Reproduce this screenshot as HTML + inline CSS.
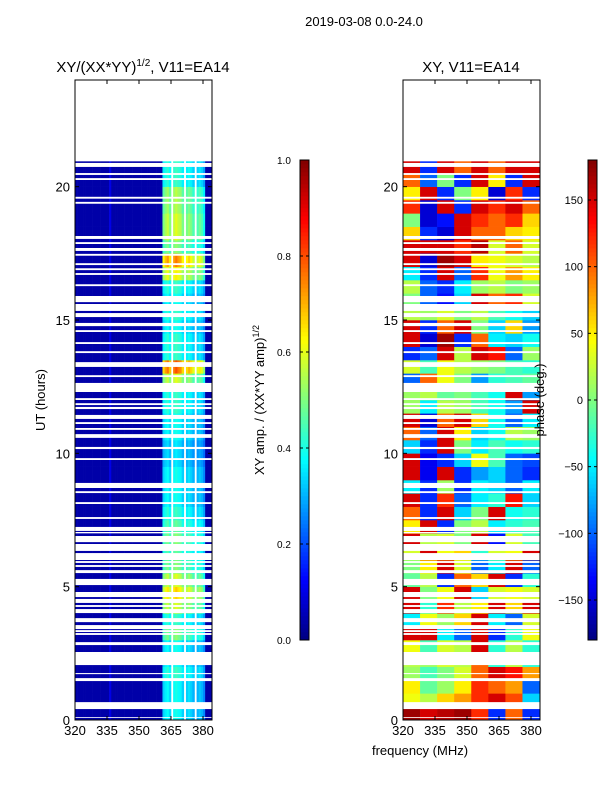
<!DOCTYPE html>
<html><head><meta charset="utf-8">
<style>
body{margin:0;background:#fff;}
svg text{font-family:"Liberation Sans",sans-serif;fill:#000;}
</style></head>
<body>
<svg id="fig" width="600" height="800" viewBox="0 0 600 800" xmlns="http://www.w3.org/2000/svg">
<text x="364" y="26" font-size="13" text-anchor="middle">2019-03-08 0.0-24.0</text>
<text x="143" y="72" font-size="15" text-anchor="middle">XY/(XX*YY)<tspan font-size="10" dy="-6">1/2</tspan><tspan dy="6">, V11=EA14</tspan></text>
<text x="471" y="72" font-size="15" text-anchor="middle">XY, V11=EA14</text>
<text x="45" y="400" font-size="13" text-anchor="middle" transform="rotate(-90 45 400)">UT (hours)</text>
<text x="420" y="755" font-size="13" text-anchor="middle">frequency (MHz)</text>
<text x="264" y="400" font-size="13" text-anchor="middle" transform="rotate(-90 264 400)">XY amp. / (XX*YY amp)<tspan font-size="9" dy="-5">1/2</tspan></text>
<g id="left"></g>
<g id="right"></g>
<g id="cbars"></g>
<g id="axes"></g>
<text x="544" y="400" font-size="13" text-anchor="middle" transform="rotate(-90 544 400)">phase (deg.)</text>
</svg>
<script>
const freqBins = [];for(let f=320;f<384;f++)freqBins.push(f);
const bandProfile = {361:0.33,362:0.36,363:0.38,364:0.34,365:null,366:0.38,367:0.4,368:0.38,369:0.37,370:0.33,371:null,372:0.33,373:0.35,374:0.33,375:0.3,376:null,377:0.3,378:0.32,379:0.3,380:0.26};
const bgAmp = 0.04;
const rowScale = [1.0,1.0,1.0,1.1,1.0,1.0,1.3,1.1,1.5,1.7,1.5,1.3,1.2,1.3,1.2,1.1,1.0,1.0,1.0,0.9,0.9,1.0,1.0,1.1,1.1,1.5,2.0,1.1,1.1,1.0,1.1,1.0,1.1,1.6,1.9,1.3,1.5,1.5,1.4,1.4,1.1,1.1];
const phaseFreqEdges = [320,328,336,344,352,360,368,376,384];
const phaseRows = [
[170,150,160,170,120,-120,100,-120],
[40,20,60,80,120,150,110,-60],
[50,-10,10,50,120,100,80,-100],
[10,-20,0,30,100,150,130,80],
[20,10,30,20,100,-30,20,-30],
[40,-20,30,20,150,-30,20,-30],
[150,150,-50,-100,150,-120,-30,40],
[-50,40,10,60,150,-50,-100,30],
[150,-30,120,20,50,150,60,150],
[150,0,40,150,-60,30,40,30],
[-10,20,-120,100,60,150,-120,-30],
[0,50,150,30,-100,-50,150,-100],
[30,150,40,60,-30,30,40,150],
[150,20,30,0,150,-130,30,-20],
[50,150,-120,0,20,-50,-30,-20],
[100,-120,150,-60,0,150,-40,-30],
[150,-120,120,-100,-50,-30,130,-60],
[-50,-120,10,-120,-50,-60,-100,-50],
[150,-140,150,-120,-80,-60,-100,-120],
[150,-140,-120,-60,40,-20,-100,-110],
[-60,-120,150,0,-50,-20,-40,-30],
[100,-100,150,50,-60,-40,20,10],
[150,-150,100,150,60,-40,-100,-50],
[10,-50,20,10,-20,-40,-80,150],
[10,20,-10,0,-20,-40,150,-80],
[-100,100,40,0,-80,-30,-20,-10],
[30,-20,40,20,10,0,-20,-30],
[-120,-100,150,20,150,130,-100,10],
[150,-150,170,-120,100,-50,-60,-40],
[150,-120,100,150,0,-60,60,-80],
[20,10,30,0,20,-20,-40,-60],
[0,-100,-130,-60,150,100,120,30],
[20,-100,-120,-50,10,20,0,10],
[-50,-120,150,-100,120,40,80,50],
[150,-150,170,150,50,40,30,20],
[150,150,150,120,160,30,100,30],
[60,-120,-150,150,100,100,60,50],
[0,-150,-130,150,120,100,120,60],
[120,-150,150,-120,150,120,150,100],
[50,150,-120,0,50,-150,120,-120],
[100,-100,0,-120,150,50,-120,150],
[150,-120,150,100,150,100,150,150]];
const rowHours = 0.5;
const gaps = [[20.74,20.89],[20.44,20.51],[20.25,20.32],[19.55,19.62],[19.36,19.43],[18.04,18.15],[17.85,17.92],[17.59,17.7],[17.41,17.48],[17.06,17.13],[16.87,16.94],[16.69,16.76],[16.27,16.34],[15.67,15.9],[15.34,15.6],[15.11,15.26],[14.77,14.89],[14.55,14.62],[14.1,14.17],[13.76,13.83],[13.24,13.42],[12.86,12.93],[12.3,12.64],[12.0,12.07],[11.81,11.88],[11.66,11.74],[11.29,11.44],[11.1,11.17],[10.88,10.95],[10.65,10.72],[10.58,10.65],[10.16,10.24],[9.75,9.82],[8.7,8.89],[8.51,8.58],[8.1,8.17],[7.54,7.61],[7.09,7.24],[7.0,7.05],[6.67,6.9],[6.34,6.6],[6.0,6.26],[5.89,5.96],[5.74,5.81],[5.51,5.62],[5.06,5.29],[4.61,4.8],[4.39,4.54],[4.24,4.31],[4.01,4.16],[3.67,3.82],[3.41,3.56],[3.3,3.37],[3.19,3.26],[2.81,2.92],[2.06,2.55],[1.72,1.76],[1.46,1.57],[0.41,0.67],[0.08,0.11]];
const dataEnd = 20.95;
const yTicks = [0,5,10,15,20];
const xTicks = [320,335,350,365,380];
const ampTicks = ["0.0","0.2","0.4","0.6","0.8","1.0"];
const phaseTicks = [-150,-100,-50,0,50,100,150];

const NS="http://www.w3.org/2000/svg";
const PW=137, PT=80, PB=720;
const yS=h=>PB-(h/24)*(PB-PT);
const xS=(x0,f)=>x0+(f-320)*(128/60);
function jet(v){v=Math.max(0,Math.min(1,v));
 const r=Math.max(0,Math.min(1,1.5-Math.abs(4*v-3))),g=Math.max(0,Math.min(1,1.5-Math.abs(4*v-2))),b=Math.max(0,Math.min(1,1.5-Math.abs(4*v-1)));
 return `rgb(${Math.round(r*255)},${Math.round(g*255)},${Math.round(b*255)})`;}
function rect(p,x,y,w,h,fill){const r=document.createElementNS(NS,'rect');r.setAttribute('x',x);r.setAttribute('y',y);r.setAttribute('width',w);r.setAttribute('height',h);r.setAttribute('fill',fill);p.appendChild(r);return r;}
function line(p,x1,y1,x2,y2,w){const l=document.createElementNS(NS,'line');l.setAttribute('x1',x1);l.setAttribute('y1',y1);l.setAttribute('x2',x2);l.setAttribute('y2',y2);l.setAttribute('stroke','#000');l.setAttribute('stroke-width',w||1);p.appendChild(l);return l;}
function text(p,x,y,s,anchor,size){const t=document.createElementNS(NS,'text');t.setAttribute('x',x);t.setAttribute('y',y);t.setAttribute('font-size',size||13);t.setAttribute('text-anchor',anchor);t.textContent=s;p.appendChild(t);return t;}
const L=document.getElementById('left'),R=document.getElementById('right');
rowScale.forEach((s,i)=>{
 const y0=yS((i+1)*rowHours),y1=yS(i*rowHours);
 freqBins.forEach(f=>{
  let v=bgAmp; if(f===336)v=0.1;
  if(f in bandProfile){if(bandProfile[f]===null)return; v=bandProfile[f]*s;}
  const r=rect(L,xS(75,f),y0,128/60+0.3,y1-y0+0.3,jet(v));
  
  
 });
});
phaseRows.forEach((row,i)=>{
 const y0=yS((i+1)*rowHours),y1=yS(i*rowHours);
 row.forEach((p,j)=>{
  const x0=xS(403,phaseFreqEdges[j]),x1=xS(403,phaseFreqEdges[j+1]);
  const r=rect(R,x0,y0,x1-x0+0.3,y1-y0+0.3,jet((p+180)/360));
  
  
 });
});
[[L,75],[R,403]].forEach(([g,x0])=>{
 const top=rect(g,x0,PT,PW,yS(dataEnd)-PT,'#fff');
 
 
 gaps.forEach(([a,b])=>{
  const r=rect(g,x0,yS(b),PW,yS(a)-yS(b),'#fff');
  
  
 });
});
const A=document.getElementById('axes');
[75,403].forEach(x0=>{
 const fr=rect(A,x0,PT,PW,PB-PT,'none');fr.setAttribute('stroke','#000');
 
 
 yTicks.forEach(h=>{const y=yS(h);line(A,x0,y,x0+4,y);line(A,x0+PW,y,x0+PW-4,y);
  const t=text(A,x0-5,y+5,String(h),'end');
  
  });
 xTicks.forEach(f=>{const x=xS(x0,f);line(A,x,PB,x,PB-4);line(A,x,PT,x,PT+4);
  const t=text(A,x,735,String(f),'middle');
  
  });
});
const C=document.getElementById('cbars');
[[300,'amp'],[588,'phase']].forEach(([cx,k])=>{
 for(let i=0;i<120;i++){const r=rect(C,cx,640-(i+1)*4,9,4.3,jet((i+0.5)/120));
  
  }
 const fr=rect(C,cx,160,9,480,'none');fr.setAttribute('stroke','#000');
});
ampTicks.forEach((s,i)=>{const y=640-i*96;line(C,300,y,303,y);line(C,309,y,306,y);
 const t=text(C,277,y+4,s,'start',10);
 
 });
phaseTicks.forEach(p=>{const y=400-p*480/360;line(C,588,y,591,y);line(C,597,y,594,y);
 const t=text(C,583,y+4,String(p).replace('-','\u2212'),'end',11);
 
 });
</script>
</body></html>
